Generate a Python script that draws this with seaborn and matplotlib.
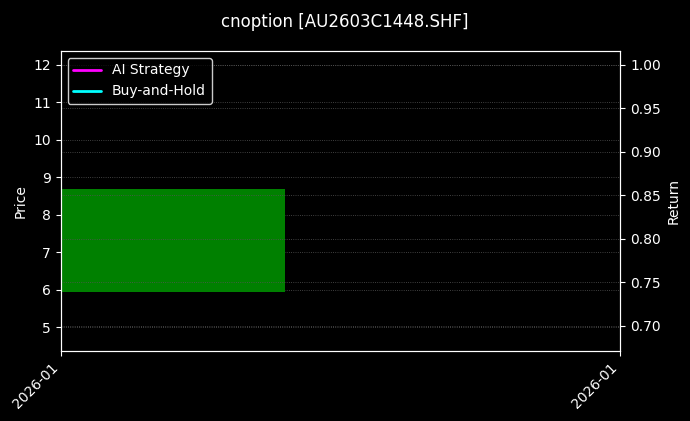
import pandas as pd
import numpy as np
import seaborn as sns
import matplotlib
matplotlib.use("Agg")
import matplotlib.pyplot as plt
import matplotlib.dates as mdates

# Data
dates = pd.to_datetime(["2026-01-05"])
open_price = [5.95]
close_price = [8.68]
ai_return = [1.0]
bh_return = [1.0]

sns.set_theme(style="ticks", rc={
    "figure.facecolor": "black",
    "axes.facecolor": "black",
    "axes.edgecolor": "white",
    "axes.labelcolor": "white",
    "axes.linewidth": 0.8,
    "xtick.major.size": 3.5,
    "ytick.major.size": 3.5,
    "xtick.major.width": 0.8,
    "ytick.major.width": 0.8,
    "text.color": "white",
    "xtick.color": "white",
    "ytick.color": "white",
    "font.family": "DejaVu Sans",
})

df = pd.DataFrame({"date": dates, "open": open_price, "close": close_price,
                   "ai": ai_return, "bh": bh_return})

fig, ax = plt.subplots(figsize=(6.9, 4.21), dpi=100)
fig.subplots_adjust(left=0.088, right=0.899, top=0.879, bottom=0.166)

# candle body
colors = ["green" if c >= o else "red" for o, c in zip(df["open"], df["close"])]
ax.bar(df["date"], df["close"] - df["open"], bottom=df["open"], width=0.8,
       color=colors, edgecolor="none", linewidth=0, zorder=2)
ax.set_ylim(4.36, 12.37)
ax.set_ylabel("Price", fontsize=10)
ax.grid(True, linestyle=":", color="#555555", linewidth=0.6)

ax2 = ax.twinx()
sns.lineplot(data=df, x="date", y="ai", ax=ax2, color="magenta", linewidth=2,
             label="AI Strategy", legend=False)
sns.lineplot(data=df, x="date", y="bh", ax=ax2, color="cyan", linewidth=2,
             label="Buy-and-Hold", legend=False)
ax2.set_ylim(0.671, 1.016)
ax2.set_ylabel("Return", fontsize=10)
ax2.grid(True, linestyle=":", color="#555555", linewidth=0.6)
for s in ax2.spines.values():
    s.set_color("white")

d0 = df["date"].iloc[0]
ax.set_xlim(d0, d0 + pd.Timedelta(days=1))
ax.set_xticks([d0, d0 + pd.Timedelta(days=1)])
ax.xaxis.set_major_formatter(mdates.DateFormatter("%Y-%m"))
ax.set_xlabel("")
ax2.set_xlabel("")
for lbl in ax.get_xticklabels():
    lbl.set_rotation(45)
    lbl.set_ha("right")
ax.tick_params(labelsize=10)
ax2.tick_params(labelsize=10)

leg = ax2.legend(handles=ax2.get_lines()[:2], labels=["AI Strategy", "Buy-and-Hold"],
                 loc="upper left", fontsize=10, facecolor="black", edgecolor="white",
                 framealpha=0.8)
for t in leg.get_texts():
    t.set_color("white")

fig.suptitle("cnoption [AU2603C1448.SHF]", color="white", fontsize=12, y=0.97)

plt.savefig("out.png", dpi=100, facecolor="black")
